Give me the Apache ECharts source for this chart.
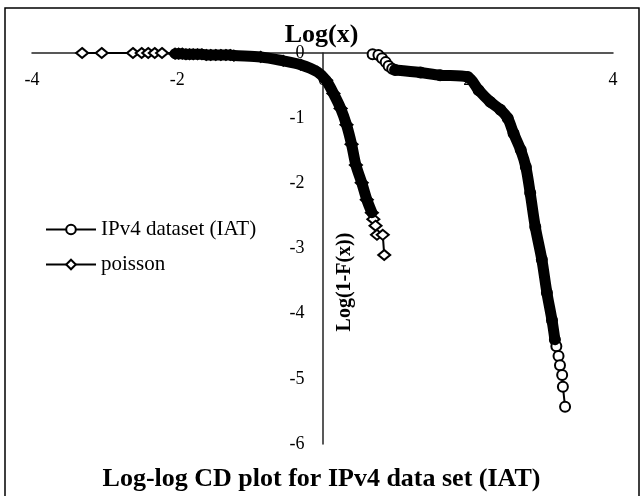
<!DOCTYPE html>
<html>
<head>
<meta charset="utf-8">
<script src="https://cdn.jsdelivr.net/npm/echarts@6/dist/echarts.min.js"></script>
<style>
html,body{margin:0;padding:0;background:#fff;}
#chart{width:643px;height:496px;}
</style>
</head>
<body>
<div id="chart"></div>
<script>
// ---- data (log10 values) ----
var xTicks = [-4, -2, 0, 2, 4];
var yTicks = [0, -1, -2, -3, -4, -5, -6];

var ipv4X = [0.69, 0.77, 0.82, 0.87, 0.91, 0.96,
  1.00, 1.35, 1.62, 2.00, 2.15, 2.31, 2.45, 2.55, 2.63, 2.73, 2.80, 2.86, 2.93, 3.02, 3.09, 3.16, 3.20,
  3.22, 3.25, 3.27, 3.30, 3.31, 3.34];
var ipv4Y = [-0.02, -0.03, -0.08, -0.14, -0.20, -0.24,
  -0.26, -0.30, -0.34, -0.37, -0.57, -0.75, -0.87, -1.00, -1.23, -1.49, -1.75, -2.15, -2.67, -3.17, -3.68, -4.10, -4.40,
  -4.50, -4.65, -4.79, -4.94, -5.12, -5.43];

var poissonX = [-3.31, -3.04, -2.61, -2.49, -2.40, -2.31, -2.21,
  -2.03, -1.98, -1.93, -1.88, -1.83, -1.78, -1.72, -1.66, -1.60, -1.54, -1.47, -1.40, -1.33, -1.27,
  -1.22, -0.85, -0.54, -0.30, -0.07, 0.05, 0.15, 0.25, 0.33, 0.40, 0.46, 0.54, 0.61, 0.68,
  0.70, 0.73, 0.75, 0.83, 0.85];
var poissonY = [0, 0, 0, 0, 0, 0, 0,
  -0.01, -0.01, -0.01, -0.02, -0.02, -0.02, -0.02, -0.02, -0.03, -0.03, -0.03, -0.03, -0.03, -0.03,
  -0.04, -0.06, -0.12, -0.18, -0.29, -0.42, -0.62, -0.85, -1.10, -1.40, -1.72, -1.99, -2.25, -2.45,
  -2.55, -2.65, -2.79, -2.79, -3.10];

// dense parts drawn as a thick band (overlapping markers in the original)
var ipv4BandRange = [1.0, 3.20];
var poissonBandRange = [-2.03, 0.68];

function pairs(xs, ys) { return xs.map(function (x, i) { return [x, ys[i]]; }); }
function band(xs, ys, r) { return pairs(xs, ys).filter(function (p) { return p[0] >= r[0] && p[0] <= r[1]; }); }

var FONT = '"Liberation Serif", "Times New Roman", serif';
var GRID_LEFT = 32, GRID_RIGHT = 30;
var chart = echarts.init(document.getElementById('chart'), null, {renderer: 'canvas'});
var plotW = 643 - GRID_LEFT - GRID_RIGHT;
var xMin = xTicks[0], xMax = xTicks[xTicks.length - 1];
// the vertical axis crosses at x = 0
var yAxisOffset = -plotW * (0 - xMin) / (xMax - xMin);

chart.setOption({
  animation: false,
  backgroundColor: '#fff',
  textStyle: {fontFamily: FONT, color: '#000'},
  title: [
    {text: 'Log(x)', left: 'center', top: 17,
     textStyle: {fontFamily: FONT, fontWeight: 'bold', fontSize: 26, color: '#000'}},
    {text: 'Log-log CD plot for IPv4 data set (IAT)', left: 'center', top: 461,
     textStyle: {fontFamily: FONT, fontWeight: 'bold', fontSize: 26, color: '#000'}}
  ],
  legend: {
    orient: 'vertical', left: 40, top: 214, itemWidth: 50, itemHeight: 12, itemGap: 14,
    data: ['IPv4 dataset (IAT)', 'poisson'],
    textStyle: {fontFamily: FONT, fontSize: 21, color: '#000'}
  },
  grid: {left: GRID_LEFT, right: GRID_RIGHT, top: 53, bottom: 52, containLabel: false},
  xAxis: {
    type: 'value', min: xMin, max: xMax, interval: 2,
    position: 'top',
    axisLine: {onZero: false, lineStyle: {color: '#222', width: 1.5}},
    axisTick: {show: false},
    splitLine: {show: false},
    axisLabel: {inside: true, margin: 18, fontFamily: FONT, fontSize: 18, color: '#000'}
  },
  yAxis: {
    type: 'value', min: yTicks[yTicks.length - 1], max: yTicks[0], interval: 1,
    position: 'left', offset: yAxisOffset,
    axisLine: {show: true, onZero: false, lineStyle: {color: '#222', width: 1.5}},
    axisTick: {show: false},
    splitLine: {show: false},
    axisLabel: {margin: 18, fontFamily: FONT, fontSize: 18, color: '#000'}
  },
  graphic: [
    {type: 'rect', shape: {x: 5, y: 8, width: 634, height: 500}, silent: true,
     style: {fill: 'none', stroke: '#000', lineWidth: 1.5}},
    {type: 'text', x: 345, y: 282, rotation: Math.PI / 2, z: 10,
     style: {text: 'Log(1-F(x))', font: 'bold 20px ' + FONT, fill: '#000',
             textAlign: 'center', textVerticalAlign: 'middle'}}
  ],
  series: [
    {name: 'IPv4 dataset (IAT)', type: 'line', data: pairs(ipv4X, ipv4Y), z: 2,
     symbol: 'circle', symbolSize: 10, showSymbol: true,
     lineStyle: {color: '#000', width: 2},
     itemStyle: {color: '#fff', borderColor: '#000', borderWidth: 2}},
    {name: 'poisson', type: 'line', data: pairs(poissonX, poissonY), z: 2,
     symbol: 'diamond', symbolSize: [12, 10], showSymbol: true,
     lineStyle: {color: '#000', width: 2},
     itemStyle: {color: '#fff', borderColor: '#000', borderWidth: 2}},
    {name: 'ipv4Band', type: 'line', data: band(ipv4X, ipv4Y, ipv4BandRange), z: 3,
     showSymbol: false, smooth: 0.3, lineStyle: {color: '#000', width: 11, cap: 'round', join: 'round'}},
    {name: 'poissonBand', type: 'line', data: band(poissonX, poissonY, poissonBandRange), z: 3,
     showSymbol: false, smooth: 0.3, lineStyle: {color: '#000', width: 11, cap: 'round', join: 'round'}}
  ]
});
</script>
</body>
</html>
